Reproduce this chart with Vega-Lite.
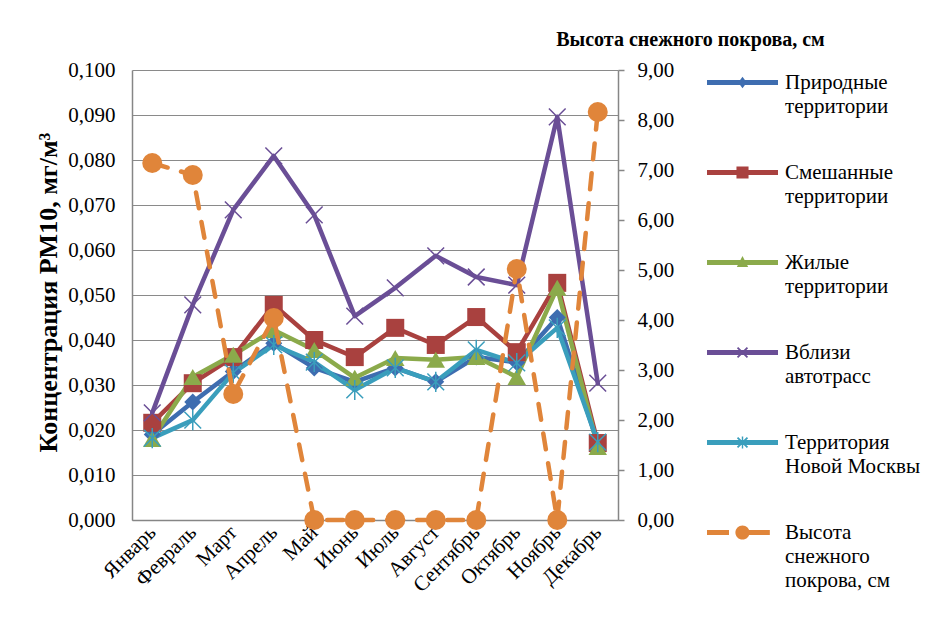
{
  "$schema": "https://vega.github.io/schema/vega-lite/v6.json",
  "width": 486,
  "height": 450,
  "autosize": {"type": "none"},
  "padding": {"left": 132, "top": 70, "right": 319, "bottom": 105},
  "background": "white",
  "datasets": {
    "pm": [
      {"month": "Январь", "series": "Природные территории", "value": 0.019},
      {"month": "Февраль", "series": "Природные территории", "value": 0.0262},
      {"month": "Март", "series": "Природные территории", "value": 0.033},
      {"month": "Апрель", "series": "Природные территории", "value": 0.0393},
      {"month": "Май", "series": "Природные территории", "value": 0.0338},
      {"month": "Июнь", "series": "Природные территории", "value": 0.0307},
      {"month": "Июль", "series": "Природные территории", "value": 0.0338},
      {"month": "Август", "series": "Природные территории", "value": 0.0307},
      {"month": "Сентябрь", "series": "Природные территории", "value": 0.0362},
      {"month": "Октябрь", "series": "Природные территории", "value": 0.035},
      {"month": "Ноябрь", "series": "Природные территории", "value": 0.045},
      {"month": "Декабрь", "series": "Природные территории", "value": 0.017},
      {"month": "Январь", "series": "Смешанные территории", "value": 0.0216},
      {"month": "Февраль", "series": "Смешанные территории", "value": 0.0304},
      {"month": "Март", "series": "Смешанные территории", "value": 0.0362},
      {"month": "Апрель", "series": "Смешанные территории", "value": 0.0478},
      {"month": "Май", "series": "Смешанные территории", "value": 0.04},
      {"month": "Июнь", "series": "Смешанные территории", "value": 0.0362},
      {"month": "Июль", "series": "Смешанные территории", "value": 0.0427},
      {"month": "Август", "series": "Смешанные территории", "value": 0.0389},
      {"month": "Сентябрь", "series": "Смешанные территории", "value": 0.0451},
      {"month": "Октябрь", "series": "Смешанные территории", "value": 0.0373},
      {"month": "Ноябрь", "series": "Смешанные территории", "value": 0.0527},
      {"month": "Декабрь", "series": "Смешанные территории", "value": 0.0171},
      {"month": "Январь", "series": "Жилые территории", "value": 0.018},
      {"month": "Февраль", "series": "Жилые территории", "value": 0.0318},
      {"month": "Март", "series": "Жилые территории", "value": 0.0367},
      {"month": "Апрель", "series": "Жилые территории", "value": 0.0422},
      {"month": "Май", "series": "Жилые территории", "value": 0.0378},
      {"month": "Июнь", "series": "Жилые территории", "value": 0.0316},
      {"month": "Июль", "series": "Жилые территории", "value": 0.036},
      {"month": "Август", "series": "Жилые территории", "value": 0.0356},
      {"month": "Сентябрь", "series": "Жилые территории", "value": 0.0362},
      {"month": "Октябрь", "series": "Жилые территории", "value": 0.0318},
      {"month": "Ноябрь", "series": "Жилые территории", "value": 0.0516},
      {"month": "Декабрь", "series": "Жилые территории", "value": 0.0162},
      {"month": "Январь", "series": "Вблизи автотрасс", "value": 0.0238},
      {"month": "Февраль", "series": "Вблизи автотрасс", "value": 0.0478},
      {"month": "Март", "series": "Вблизи автотрасс", "value": 0.0689},
      {"month": "Апрель", "series": "Вблизи автотрасс", "value": 0.0809},
      {"month": "Май", "series": "Вблизи автотрасс", "value": 0.0678},
      {"month": "Июнь", "series": "Вблизи автотрасс", "value": 0.0453},
      {"month": "Июль", "series": "Вблизи автотрасс", "value": 0.0516},
      {"month": "Август", "series": "Вблизи автотрасс", "value": 0.0587},
      {"month": "Сентябрь", "series": "Вблизи автотрасс", "value": 0.054},
      {"month": "Октябрь", "series": "Вблизи автотрасс", "value": 0.0522},
      {"month": "Ноябрь", "series": "Вблизи автотрасс", "value": 0.0896},
      {"month": "Декабрь", "series": "Вблизи автотрасс", "value": 0.0304},
      {"month": "Январь", "series": "Территория Новой Москвы", "value": 0.0182},
      {"month": "Февраль", "series": "Территория Новой Москвы", "value": 0.0222},
      {"month": "Март", "series": "Территория Новой Москвы", "value": 0.0327},
      {"month": "Апрель", "series": "Территория Новой Москвы", "value": 0.0389},
      {"month": "Май", "series": "Территория Новой Москвы", "value": 0.0351},
      {"month": "Июнь", "series": "Территория Новой Москвы", "value": 0.0289},
      {"month": "Июль", "series": "Территория Новой Москвы", "value": 0.0338},
      {"month": "Август", "series": "Территория Новой Москвы", "value": 0.0307},
      {"month": "Сентябрь", "series": "Территория Новой Москвы", "value": 0.0378},
      {"month": "Октябрь", "series": "Территория Новой Москвы", "value": 0.0349},
      {"month": "Ноябрь", "series": "Территория Новой Москвы", "value": 0.0427},
      {"month": "Декабрь", "series": "Территория Новой Москвы", "value": 0.0173}
    ],
    "snow": [
      {"month": "Январь", "series": "Высота снежного покрова, см", "value": 7.14},
      {"month": "Февраль", "series": "Высота снежного покрова, см", "value": 6.9},
      {"month": "Март", "series": "Высота снежного покрова, см", "value": 2.52},
      {"month": "Апрель", "series": "Высота снежного покрова, см", "value": 4.04},
      {"month": "Май", "series": "Высота снежного покрова, см", "value": 0},
      {"month": "Июнь", "series": "Высота снежного покрова, см", "value": 0},
      {"month": "Июль", "series": "Высота снежного покрова, см", "value": 0},
      {"month": "Август", "series": "Высота снежного покрова, см", "value": 0},
      {"month": "Сентябрь", "series": "Высота снежного покрова, см", "value": 0},
      {"month": "Октябрь", "series": "Высота снежного покрова, см", "value": 5.02},
      {"month": "Ноябрь", "series": "Высота снежного покрова, см", "value": 0},
      {"month": "Декабрь", "series": "Высота снежного покрова, см", "value": 8.16}
    ]
  },
  "config": {
    "font": "Liberation Serif",
    "view": {"stroke": null},
    "axis": {
      "labelFont": "Liberation Serif",
      "labelFontSize": 21,
      "labelColor": "#000000",
      "titleFont": "Liberation Serif",
      "titleColor": "#000000",
      "domainColor": "#868686",
      "domainWidth": 1.5,
      "tickColor": "#868686",
      "tickWidth": 1.5,
      "gridColor": "#8a8a8a",
      "gridWidth": 1
    },
    "legend": {
      "labelFont": "Liberation Serif",
      "labelFontSize": 21,
      "labelColor": "#000000"
    },
    "style": {"guide-label": {"lineHeight": 24}}
  },
  "layer": [
    {
      "data": {"name": "pm"},
      "encoding": {
        "x": {
          "field": "month", "type": "ordinal",
          "sort": ["Январь","Февраль","Март","Апрель","Май","Июнь","Июль","Август","Сентябрь","Октябрь","Ноябрь","Декабрь"],
          "scale": {"domain": ["Январь","Февраль","Март","Апрель","Май","Июнь","Июль","Август","Сентябрь","Октябрь","Ноябрь","Декабрь"]},
          "axis": {"title": null, "ticks": false, "grid": false, "labelAngle": -45, "labelAlign": "right", "labelBaseline": "middle", "labelPadding": 9}
        },
        "y": {
          "field": "value", "type": "quantitative",
          "scale": {"domain": [0, 0.1], "nice": false},
          "axis": {
            "orient": "left",
            "values": [0, 0.01, 0.02, 0.03, 0.04, 0.05, 0.06, 0.07, 0.08, 0.09, 0.1],
            "grid": true, "ticks": false, "labelPadding": 17,
            "labelExpr": "replace(format(datum.value, '.3f'), '.', ',')",
            "title": "Концентрация PM10, мг/м³",
            "titleFontWeight": "bold", "titleFontSize": 26,
            "titleAngle": -90, "titleX": -84, "titleY": 222,
            "titleAlign": "center", "titleBaseline": "middle"
          }
        }
      },
      "layer": [
        {
          "mark": {"type": "line", "strokeWidth": 4.5, "strokeJoin": "round", "strokeCap": "round"},
          "encoding": {
            "stroke": {
              "field": "series", "type": "nominal",
              "scale": {"domain": ["Высота снежного покрова, см","Территория Новой Москвы","Вблизи автотрасс","Жилые территории","Смешанные территории","Природные территории"], "range": ["#E0853A","#3A9EBC","#6A4E96","#8BAA4B","#A9413F","#3E6DB0"]},
              "legend": null
            }
          }
        },
        {
          "transform": [{"filter": "datum.series === 'Природные территории'"}],
          "mark": {"type": "point", "shape": "diamond", "filled": true, "opacity": 1, "size": 289},
          "encoding": {
            "fill": {"field": "series", "type": "nominal", "scale": {"domain": ["Высота снежного покрова, см","Территория Новой Москвы","Вблизи автотрасс","Жилые территории","Смешанные территории","Природные территории"], "range": ["#E0853A","#3A9EBC","#6A4E96","#8BAA4B","#A9413F","#3E6DB0"]}, "legend": null}
          }
        },
        {
          "transform": [{"filter": "datum.series === 'Смешанные территории'"}],
          "mark": {"type": "point", "shape": "square", "filled": true, "opacity": 1, "size": 324},
          "encoding": {
            "fill": {"field": "series", "type": "nominal", "legend": null}
          }
        },
        {
          "transform": [{"filter": "datum.series === 'Жилые территории'"}],
          "mark": {"type": "point", "shape": "triangle-up", "filled": true, "opacity": 1, "size": 340},
          "encoding": {
            "fill": {"field": "series", "type": "nominal", "legend": null}
          }
        },
        {
          "transform": [{"filter": "datum.series === 'Вблизи автотрасс'"}],
          "mark": {"type": "point", "shape": "M-1,-1L1,1M-1,1L1,-1", "filled": false, "opacity": 1, "size": 280, "strokeWidth": 1.5},
          "encoding": {
            "stroke": {"field": "series", "type": "nominal", "legend": null}
          }
        },
        {
          "transform": [{"filter": "datum.series === 'Территория Новой Москвы'"}],
          "mark": {"type": "point", "shape": "M-1,-1L1,1M-1,1L1,-1M0,-1.2L0,1.2", "filled": false, "opacity": 1, "size": 280, "strokeWidth": 1.5},
          "encoding": {
            "stroke": {"field": "series", "type": "nominal", "legend": null}
          }
        }
      ]
    },
    {
      "data": {"name": "snow"},
      "encoding": {
        "x": {
          "field": "month", "type": "ordinal",
          "sort": ["Январь","Февраль","Март","Апрель","Май","Июнь","Июль","Август","Сентябрь","Октябрь","Ноябрь","Декабрь"]
        },
        "y": {
          "field": "value", "type": "quantitative",
          "scale": {"domain": [0, 9], "nice": false},
          "axis": {
            "orient": "right",
            "values": [0, 1, 2, 3, 4, 5, 6, 7, 8, 9],
            "grid": false, "ticks": true, "tickSize": 6, "labelPadding": 13,
            "labelExpr": "replace(format(datum.value, '.2f'), '.', ',')",
            "title": "Высота снежного покрова, см",
            "titleFontWeight": "bold", "titleFontSize": 20,
            "titleAngle": 0, "titleX": 72, "titleY": -31,
            "titleAlign": "center", "titleBaseline": "middle"
          }
        }
      },
      "layer": [
        {
          "mark": {"type": "line", "strokeWidth": 4.5, "strokeDash": [16, 14], "strokeCap": "round", "strokeJoin": "round"},
          "encoding": {
            "stroke": {"field": "series", "type": "nominal", "legend": null}
          }
        },
        {
          "mark": {"type": "point", "shape": "circle", "filled": true, "opacity": 1, "size": 400},
          "encoding": {
            "fill": {"field": "series", "type": "nominal", "legend": null}
          }
        }
      ]
    },
    {
      "data": {"name": "pm"},
      "mark": {"type": "point", "filled": true, "opacity": 1, "size": 0},
      "encoding": {
        "color": {
          "field": "series", "type": "nominal",
          "scale": {"domain": ["Природные территории","Смешанные территории","Жилые территории","Вблизи автотрасс","Территория Новой Москвы","Высота снежного покрова, см"], "range": ["#3E6DB0","#A9413F","#8BAA4B","#6A4E96","#3A9EBC","#E0853A"]},
          "legend": {
            "title": null, "orient": "none", "legendX": 575, "legendY": -23, "padding": 0,
            "symbolSize": 5041, "symbolStrokeWidth": 0, "labelOffset": 7, "labelLimit": 300,
            "labelBaseline": "middle", "rowPadding": 20,
            "labelExpr": "datum.label == 'Территория Новой Москвы' ? ['Территория', 'Новой Москвы'] : datum.label == 'Высота снежного покрова, см' ? ['Высота', 'снежного', 'покрова, см'] : split(datum.label, ' ')"
          }
        },
        "shape": {
          "field": "series", "type": "nominal",
          "scale": {
            "domain": ["Природные территории","Смешанные территории","Жилые территории","Вблизи автотрасс","Территория Новой Москвы","Высота снежного покрова, см"],
            "range": [
              "M-1,-0.07H1V0.07H-1Z M0,-0.16L0.12,0L0,0.16L-0.12,0Z",
              "M-1,-0.07H1V0.07H-1Z M-0.17,-0.17H0.17V0.17H-0.17Z",
              "M-1,-0.07H1V0.07H-1Z M0,-0.18L0.16,0.13H-0.16Z",
              "M-1,-0.07H1V0.07H-1Z M-0.158,-0.122L-0.122,-0.158L0.158,0.122L0.122,0.158Z M-0.158,0.122L0.122,-0.158L0.158,-0.122L-0.122,0.158Z",
              "M-1,-0.07H1V0.07H-1Z M-0.158,-0.122L-0.122,-0.158L0.158,0.122L0.122,0.158Z M-0.158,0.122L0.122,-0.158L0.158,-0.122L-0.122,0.158Z M-0.02,-0.17H0.02V0.17H-0.02Z",
              "M-1,-0.07H-0.38V0.07H-1Z M0.13,-0.07H0.77V0.07H0.13Z M-0.2,0A0.2,0.2 0 1,1 0.2,0A0.2,0.2 0 1,1 -0.2,0Z"
            ]
          }
        }
      }
    }
  ],
  "resolve": {"scale": {"y": "independent"}}
}
